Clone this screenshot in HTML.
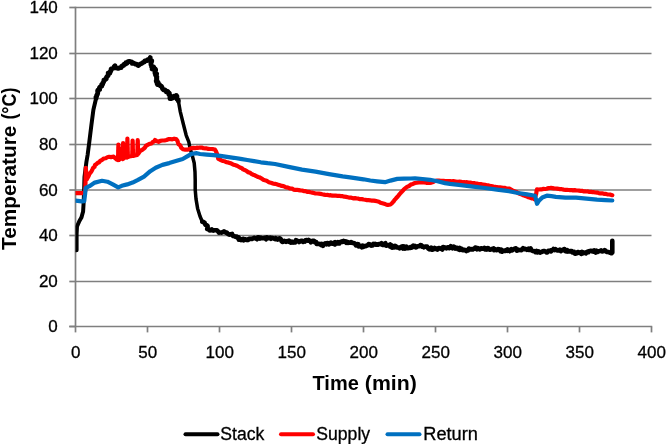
<!DOCTYPE html>
<html><head><meta charset="utf-8"><style>
html,body{margin:0;padding:0;background:#fff;}
svg{display:block;}
text{font-family:"Liberation Sans",Arial,sans-serif;fill:#000;}
.tk{font-size:17px;stroke:#000;stroke-width:0.3px;}
.ttl{font-size:20.4px;font-weight:bold;}
.lg{font-size:17.6px;stroke:#000;stroke-width:0.3px;}
</style></head><body>
<svg width="666" height="444" viewBox="0 0 666 444">
<rect width="666" height="444" fill="#fff"/>
<g stroke="#7f7f7f" stroke-width="1.7" fill="none">
<line x1="75.5" y1="281.5" x2="651.5" y2="281.5"/>
<line x1="75.5" y1="235.5" x2="651.5" y2="235.5"/>
<line x1="75.5" y1="190" x2="651.5" y2="190"/>
<line x1="75.5" y1="144.5" x2="651.5" y2="144.5"/>
<line x1="75.5" y1="98.5" x2="651.5" y2="98.5"/>
<line x1="75.5" y1="53.5" x2="651.5" y2="53.5"/>
<line x1="75.5" y1="7.5" x2="651.5" y2="7.5"/>
<line x1="69.3" y1="326.5" x2="75.5" y2="326.5"/>
<line x1="69.3" y1="281.5" x2="75.5" y2="281.5"/>
<line x1="69.3" y1="235.5" x2="75.5" y2="235.5"/>
<line x1="69.3" y1="190" x2="75.5" y2="190"/>
<line x1="69.3" y1="144.5" x2="75.5" y2="144.5"/>
<line x1="69.3" y1="98.5" x2="75.5" y2="98.5"/>
<line x1="69.3" y1="53.5" x2="75.5" y2="53.5"/>
<line x1="69.3" y1="7.5" x2="75.5" y2="7.5"/>
<line x1="75.5" y1="326.5" x2="75.5" y2="332.4"/>
<line x1="147.5" y1="326.5" x2="147.5" y2="332.4"/>
<line x1="219.5" y1="326.5" x2="219.5" y2="332.4"/>
<line x1="291.5" y1="326.5" x2="291.5" y2="332.4"/>
<line x1="363.5" y1="326.5" x2="363.5" y2="332.4"/>
<line x1="435.5" y1="326.5" x2="435.5" y2="332.4"/>
<line x1="507.5" y1="326.5" x2="507.5" y2="332.4"/>
<line x1="579.5" y1="326.5" x2="579.5" y2="332.4"/>
<line x1="651.5" y1="326.5" x2="651.5" y2="332.4"/>
<line x1="75.5" y1="6.8" x2="75.5" y2="326.5"/>
<line x1="69.3" y1="326.5" x2="652.2" y2="326.5"/>
</g>
<g class="tk">
<text x="57.8" y="332.30" text-anchor="end">0</text>
<text x="57.8" y="287.30" text-anchor="end">20</text>
<text x="57.8" y="241.30" text-anchor="end">40</text>
<text x="57.8" y="195.80" text-anchor="end">60</text>
<text x="57.8" y="150.30" text-anchor="end">80</text>
<text x="57.8" y="104.30" text-anchor="end">100</text>
<text x="57.8" y="59.30" text-anchor="end">120</text>
<text x="57.8" y="13.30" text-anchor="end">140</text>
<text x="75.80" y="357.6" text-anchor="middle">0</text>
<text x="147.80" y="357.6" text-anchor="middle">50</text>
<text x="219.80" y="357.6" text-anchor="middle">100</text>
<text x="291.80" y="357.6" text-anchor="middle">150</text>
<text x="363.80" y="357.6" text-anchor="middle">200</text>
<text x="435.80" y="357.6" text-anchor="middle">250</text>
<text x="507.80" y="357.6" text-anchor="middle">300</text>
<text x="579.80" y="357.6" text-anchor="middle">350</text>
<text x="651.80" y="357.6" text-anchor="middle">400</text>
</g>
<text class="ttl" transform="translate(16.4,249.9) rotate(-90)" textLength="124.2" lengthAdjust="spacingAndGlyphs">Temperature</text>
<text class="ttl" transform="translate(16.4,119.6) rotate(-90)" textLength="32" lengthAdjust="spacingAndGlyphs">(°C)</text>
<text class="ttl" x="312.5" y="390" textLength="46.3" lengthAdjust="spacingAndGlyphs">Time</text>
<text class="ttl" x="364.8" y="390" textLength="52.0" lengthAdjust="spacingAndGlyphs">(min)</text>
<clipPath id="pa"><rect x="75.5" y="0" width="580" height="330"/></clipPath>
<g fill="none" stroke-width="4.2" stroke-linejoin="round" stroke-linecap="round" clip-path="url(#pa)">
<polyline stroke="#000" stroke-width="4.0" points="76.6,250.3 76.6,234.0 77.0,226.5 79.4,221.0 81.4,217.6 83.1,211.5 83.5,204.8 84.0,193.8 84.5,176.9 86.4,162.0 87.6,155.0 89.3,142.0 91.4,125.0 93.4,109.7 96.1,98.2"/>
<polyline stroke="#000" stroke-width="4.8" points="96.1,98.2 95.9,97.1 96.7,96.3 96.7,95.2 97.4,94.3 97.7,93.3 97.8,92.3 97.6,91.0 97.9,90.0 99.7,89.7 99.3,88.2 99.7,87.3 100.6,86.5 101.9,86.1 101.6,84.7 102.7,84.2 102.7,83.0 103.5,82.3 103.8,81.3 103.9,80.0 105.3,79.5 106.3,78.8 106.4,77.5 107.0,76.5 108.0,75.8 108.5,74.8 108.2,73.2 109.9,73.0 110.1,71.8 110.8,71.1 111.0,69.9 111.2,68.8 112.5,68.5 113.8,68.0 114.1,66.7 115.0,65.8 115.6,66.9 116.2,67.9 117.5,68.3 118.9,68.3 120.0,67.6 121.3,67.6 121.6,66.2 122.5,65.8 123.7,65.5 124.1,64.2 125.5,64.1 125.8,62.8 127.1,63.2 128.1,61.6 129.3,61.4 130.6,61.8 131.8,61.8 132.2,63.4 133.6,63.0 134.5,63.5 135.4,64.2 136.7,64.2 137.5,65.0 138.5,65.5 139.4,64.7 140.4,63.9 141.5,63.5 142.4,62.9 143.2,62.3 144.4,62.0 144.8,60.8 146.0,60.7 147.2,60.6 148.0,59.5 149.6,59.0 150.3,57.6 149.7,58.9 150.6,59.9 151.8,60.7 151.5,62.0 151.0,63.1 150.9,64.1 151.1,65.1 151.8,66.0 151.6,67.0 152.6,67.9 152.2,69.0 153.4,68.2 153.6,66.8 154.0,67.9 154.9,68.7 155.7,69.6 155.5,71.0 155.0,72.1 154.9,73.1 156.6,73.9 155.5,75.1 156.3,76.0 156.9,76.9 156.4,78.0 156.9,79.0 156.3,80.2 156.2,81.3 157.9,82.1 157.0,83.4 157.4,84.4 158.5,83.7 159.5,84.6 160.1,85.8 161.5,86.3 162.1,87.5 162.6,88.9 163.5,89.8 165.0,90.0 165.8,90.6 166.2,91.9 167.7,91.4 168.4,92.3 169.4,93.2 168.8,94.4 170.0,95.2 170.0,96.4 169.9,97.5 170.0,98.6 171.3,98.5 172.5,98.0 173.1,96.9 173.9,96.1 175.7,96.7 176.3,95.5 177.0,96.5 176.4,98.0 176.9,99.1 178.2,99.8 178.4,101.0"/>
<polyline stroke="#000" stroke-width="3.5" points="178.4,101.0 180.2,111.3 183.2,123.5 186.2,135.3 188.8,141.8 190.1,148.5 192.2,155.3 194.2,163.0 195.0,172.0 195.2,180.0 195.2,189.5 196.0,198.9 197.6,208.4 200.0,216.3 202.3,221.8"/>
<polyline stroke="#000" stroke-width="4.6" points="202.3,221.8 203.5,222.1 204.6,222.7 204.9,223.9 205.5,224.9 206.8,225.3 207.6,226.0 207.6,227.3 207.2,228.9 208.6,229.2 209.4,230.2 210.3,230.4 211.7,229.4 212.4,230.4 213.4,230.6 214.4,230.3 215.4,230.2 216.4,230.2 217.3,230.6 218.1,231.5 218.9,232.6 219.9,232.5 220.8,232.5 221.8,232.6 222.8,232.0 223.9,231.4 224.9,231.8 225.8,232.8 226.8,232.6 227.6,233.5 228.4,234.2 229.4,234.6 230.7,234.2 232.1,233.9 232.5,235.5 233.3,236.1 234.5,236.3 235.4,236.8 236.7,236.6 237.3,237.7 238.7,237.3 238.8,239.6 240.2,239.1 241.1,240.0 242.1,239.3 243.1,238.8 243.9,240.3 244.9,239.4 245.9,239.4 247.1,240.1 248.1,239.9 249.0,238.9 250.0,238.9 251.0,238.6 252.0,239.0 253.0,238.5 254.0,237.8 255.0,238.1 256.0,238.5 257.0,239.2 257.9,237.3 258.9,237.3 260.0,238.6 261.0,237.7 262.0,238.2 263.0,238.3 264.0,238.1 265.0,237.8 266.0,239.3 267.0,237.4 268.0,238.1 269.0,238.0 270.1,237.6 271.0,238.7 272.0,237.9 273.0,238.2 274.0,238.6 274.9,239.2 275.8,238.1 276.7,238.7 277.6,239.5 278.5,238.5 279.9,238.4 280.7,239.0 281.2,240.0 281.5,241.1 282.3,241.9 283.3,241.7 284.3,240.9 285.2,241.3 286.0,241.8 287.0,241.0 288.0,241.6 289.0,240.6 290.0,242.1 291.0,242.6 292.0,241.6 293.1,242.6 294.0,242.0 295.1,242.4 295.9,240.1 297.0,240.7 298.0,241.1 299.1,242.1 300.0,241.6 301.0,240.7 302.0,240.8 302.9,241.9 303.9,241.1 304.8,241.6 305.7,240.3 306.6,240.1 307.5,240.7 308.5,239.9 309.4,240.8 310.4,240.8 310.9,242.4 312.2,241.2 313.3,240.7 314.2,241.0 314.8,242.3 316.2,242.1 316.6,243.9 318.0,243.8 319.2,243.9 320.2,244.1 321.1,245.0 321.9,243.9 323.1,245.9 323.8,244.4 324.6,243.8 325.4,243.3 326.5,244.2 327.3,243.1 328.2,243.3 329.2,244.4 330.0,243.1 330.9,242.7 331.9,243.7 332.8,243.7 333.6,242.9 334.9,244.4 335.3,242.2 336.4,242.9 337.5,243.3 338.1,242.2 339.4,243.4 340.0,242.0 340.9,241.9 341.8,241.4 342.7,241.8 343.6,240.9 344.6,241.8 345.5,241.4 346.4,242.9 347.3,242.0 348.0,243.0 349.1,242.5 350.0,242.8 351.2,242.0 352.0,242.7 352.9,243.0 353.8,243.1 354.7,243.4 355.4,244.3 356.0,245.4 357.5,244.1 358.4,244.2 358.7,246.5 359.9,245.9 360.8,246.1 361.8,247.2 362.6,245.6 363.6,246.7 364.4,246.0 365.4,246.2 366.3,246.0 367.1,245.3 368.0,245.2 368.7,244.1 369.7,244.2 370.9,245.6 371.8,245.5 372.7,245.4 373.3,243.8 374.4,244.4 375.2,243.9 376.1,244.6 377.0,244.2 377.9,244.7 378.8,244.0 379.7,244.3 380.6,244.3 381.5,243.3 382.4,244.9 383.3,245.0 384.2,243.9 385.4,243.2 385.7,245.5 386.6,245.7 387.7,245.3 388.7,245.2 390.0,244.5 390.2,246.8 391.7,245.4 391.9,247.6 393.2,246.9 394.1,247.4 395.1,245.9 396.0,246.3 396.8,247.4 397.8,247.3 398.6,247.8 399.5,248.3 400.5,247.3 401.5,246.7 402.4,246.3 403.1,248.6 404.2,246.5 404.9,248.6 405.9,247.8 406.6,246.7 407.8,248.2 408.7,248.0 409.7,248.0 410.4,247.1 411.5,247.7 412.2,246.6 413.1,245.8 414.0,246.9 414.9,246.0 415.9,247.3 416.7,247.0 417.6,246.2 418.5,246.3 419.4,246.2 420.4,245.1 421.3,245.2 422.1,246.6 423.0,246.3 423.9,247.3 424.8,246.7 425.7,246.5 427.1,246.5 427.7,247.6 428.4,248.6 429.3,249.3 430.2,248.8 431.2,247.6 431.9,249.7 432.8,249.7 433.8,249.0 434.6,248.0 435.6,249.0 436.5,248.6 437.4,249.5 438.3,248.3 439.2,248.1 440.1,248.6 441.0,248.6 442.2,249.5 442.6,247.2 443.5,247.0 444.7,248.0 445.5,247.5 446.4,248.4 447.3,247.4 448.2,247.2 449.1,248.2 450.0,247.9 450.9,246.2 451.8,247.2 452.6,248.2 453.7,246.7 454.6,247.1 455.4,248.5 456.4,247.7 457.3,248.0 457.9,249.0 459.4,248.0 459.7,249.9 461.2,248.7 462.1,249.1 462.7,250.2 463.6,250.1 464.5,249.7 465.4,250.2 466.3,251.0 467.2,250.0 468.2,250.3 468.8,248.5 469.8,249.0 470.8,249.4 471.7,249.1 472.7,249.5 473.5,248.7 474.4,248.6 475.2,247.5 476.2,247.9 477.1,249.3 478.0,248.1 478.9,249.0 479.9,249.5 480.7,248.6 481.6,248.2 482.5,248.7 483.4,248.6 484.3,247.9 485.1,249.4 486.1,248.4 486.9,249.5 487.9,248.1 488.8,248.6 489.6,249.6 490.5,249.6 491.5,249.3 492.4,249.0 493.4,248.4 494.1,250.1 495.1,249.2 496.0,249.7 496.8,250.2 497.9,249.1 498.9,249.2 499.7,249.5 500.4,251.2 501.5,249.8 502.1,251.7 503.2,250.9 504.1,250.5 505.0,250.9 505.9,250.2 506.9,250.8 507.7,249.4 508.6,250.1 509.7,251.2 510.5,250.1 511.3,249.2 512.3,250.3 513.2,249.4 514.1,249.3 514.9,248.5 515.8,248.4 516.9,250.6 517.7,249.4 518.7,250.1 519.5,250.0 520.4,250.0 521.4,250.2 522.2,249.1 523.0,248.2 524.0,249.2 524.9,248.9 525.8,249.0 526.8,249.8 527.6,249.3 528.5,248.6 529.0,250.0 530.7,248.5 531.1,250.1 531.9,250.5 532.8,251.0 533.8,251.1 534.8,251.2 535.6,252.1 536.6,250.9 537.4,252.4 538.4,251.3 539.3,251.8 540.1,252.6 541.1,252.2 542.0,251.8 542.8,251.2 543.7,251.0 544.7,251.1 545.6,251.7 546.6,252.5 547.5,252.2 548.3,250.9 549.2,251.0 550.1,250.6 551.1,251.4 551.8,250.0 552.8,250.1 553.5,249.0 554.6,250.0 555.6,249.2 556.7,250.1 557.7,250.5 558.7,250.3 559.7,249.7 560.8,251.1 561.8,250.0 562.7,250.3 563.7,249.3 564.6,249.1 565.4,251.3 566.3,251.4 567.3,250.3 567.9,251.6 569.2,251.4 570.4,251.1 571.6,251.1 572.2,252.4 573.1,251.9 574.1,251.9 574.8,253.6 575.7,253.6 576.6,253.4 577.7,252.0 578.6,252.3 579.4,253.0 580.2,252.4 581.3,253.9 582.0,251.9 583.1,253.3 583.9,252.9 584.8,252.5 585.8,253.4 586.6,252.2 587.5,251.6 588.4,252.1 589.2,251.2 590.1,250.9 591.0,250.7 592.0,251.3 592.8,250.8 593.8,251.6 594.5,250.4 595.8,252.5 596.4,250.7 597.6,251.9 598.4,251.3 599.3,251.2 600.2,250.9 601.0,250.4 602.0,251.4 602.9,251.2 603.7,250.7 604.6,250.1 605.4,250.7 606.2,251.5 607.0,252.0 608.2,252.0 609.3,252.4 610.4,252.9 611.5,253.3 612.3,252.6 612.3,251.7 612.3,250.8 612.3,249.9 612.3,249.0 612.3,248.1 612.3,247.2 612.3,246.2 612.3,245.3 612.3,244.4 612.3,243.5 612.3,242.6 612.3,241.7 612.3,240.8"/>
<polyline stroke="#ff0000" points="75.5,193.2 77.1,193.2 78.7,193.2 80.2,193.2 81.8,193.2 83.4,193.2 85.2,191.0 85.3,189.4 85.3,187.9 85.4,186.3 85.4,184.7 85.5,183.1 85.5,181.6 85.6,180.0 85.6,178.5 85.6,176.9 85.7,175.4 85.7,173.9 85.7,172.4 85.8,170.9 85.8,169.3 85.8,167.8 85.9,169.5 86.1,171.1 86.2,172.8 86.3,174.5 86.4,176.2 86.6,177.8 86.7,179.5 87.4,178.1 88.2,176.7 88.9,175.3 89.4,173.8 90.6,172.5 91.6,171.1 92.3,169.6 93.0,168.0 94.5,166.9 95.0,165.0 96.6,163.9 97.8,162.8 99.3,162.2 100.2,160.8 102.1,159.8 103.8,158.5 105.7,158.2 107.4,157.2 109.2,156.8 111.0,157.1 113.7,156.7 115.2,158.1 116.6,159.5 118.0,160.0 118.0,158.4 118.1,156.9 118.1,155.3 118.2,153.8 118.2,152.2 118.2,150.7 118.3,149.2 118.3,147.6 118.4,146.1 118.4,144.5 118.5,146.1 118.5,147.6 118.6,149.2 118.6,150.7 118.7,152.2 118.7,153.8 118.8,155.3 118.8,156.9 118.9,158.4 118.9,160.0 120.3,158.0 120.4,156.5 120.5,155.0 120.5,153.5 120.6,152.0 120.7,150.5 120.8,149.0 120.9,150.5 121.0,152.0 121.0,153.5 121.1,155.0 121.2,156.5 121.3,158.0 122.7,159.0 122.7,157.4 122.8,155.8 122.8,154.2 122.9,152.6 122.9,151.0 122.9,149.4 123.0,147.8 123.0,146.2 123.1,144.6 123.1,143.0 123.1,144.6 123.2,146.1 123.2,147.7 123.3,149.2 123.3,150.8 123.4,152.3 123.4,153.8 123.5,155.4 123.5,156.9 123.6,158.5 125.0,157.0 125.1,155.5 125.1,154.0 125.2,152.5 125.3,151.0 125.3,149.5 125.4,148.0 125.5,149.5 125.5,151.0 125.6,152.5 125.7,154.0 125.7,155.5 125.8,157.0 127.0,157.5 127.0,155.9 127.1,154.3 127.1,152.8 127.1,151.2 127.2,149.6 127.2,148.0 127.2,146.4 127.3,144.8 127.3,143.2 127.3,141.7 127.4,140.1 127.4,138.5 127.4,140.0 127.5,141.6 127.5,143.1 127.6,144.7 127.6,146.2 127.7,147.8 127.7,149.3 127.7,150.8 127.8,152.4 127.8,153.9 127.9,155.5 127.9,157.0 129.3,156.5 132.2,156.0 132.2,154.4 132.3,152.9 132.3,151.3 132.4,149.8 132.4,148.2 132.4,146.7 132.5,145.2 132.5,143.6 132.6,142.1 132.6,140.5 132.7,142.1 132.7,143.6 132.8,145.2 132.8,146.7 132.8,148.2 132.9,149.8 132.9,151.3 133.0,152.9 133.0,154.4 133.1,156.0 134.8,155.5 137.3,155.0 137.3,153.4 137.4,151.7 137.4,150.1 137.5,148.4 137.5,146.8 137.6,145.1 137.6,143.5 137.7,141.8 137.7,140.2 137.8,141.7 137.8,143.3 137.9,144.8 137.9,146.3 138.0,147.9 138.0,149.4 138.1,150.9 138.1,152.5 138.2,154.0 139.7,151.6 140.8,150.5 142.3,149.8 143.5,148.9 144.9,147.6 145.9,145.9 147.6,144.9 149.5,143.9 151.5,143.5 152.5,142.2 154.1,141.5 155.0,140.0 156.6,141.1 158.5,141.8 160.3,140.8 162.4,140.5 164.5,140.5 166.5,140.0 168.4,139.2 170.5,139.2 172.3,139.3 174.2,138.7 176.0,139.0 177.4,140.6 178.0,142.7 178.5,144.2 179.9,145.1 180.7,146.4 181.3,147.9 183.1,149.2 185.3,149.7 187.5,149.7 189.5,148.9 191.4,148.1 193.5,147.8 195.1,148.2 196.8,147.7 198.4,147.8 200.0,147.5 201.7,147.6 203.4,148.2 205.1,148.3 206.8,148.4 208.4,148.9 210.0,149.0 211.7,149.0 213.3,149.2 214.9,149.5 216.0,151.4 216.9,153.5 217.5,155.3 218.0,157.0 218.2,158.9 219.8,159.5 221.4,160.3 223.0,161.0 224.7,161.3 226.3,162.1 228.0,162.4 229.7,163.0 231.4,163.6 232.9,164.4 234.6,164.9 236.2,165.5 237.8,166.2 239.2,167.0 240.5,167.8 242.0,168.3 243.1,169.4 244.6,170.0 246.1,170.6 247.3,171.6 248.6,172.4 250.2,172.8 251.4,173.8 253.0,174.7 254.8,175.3 256.4,176.2 258.1,177.0 259.6,177.4 260.9,178.1 262.2,178.8 263.4,179.8 264.9,180.3 266.6,180.8 268.2,181.8 269.8,182.5 271.6,183.0 273.2,183.7 275.0,183.8 276.7,184.3 278.3,184.9 280.0,185.3 281.7,185.9 283.5,186.1 285.1,186.9 286.8,187.4 288.5,187.8 290.1,188.5 292.0,188.6 293.5,189.6 295.3,189.9 297.0,189.8 298.7,190.1 300.3,190.4 302.0,190.5 303.7,191.1 305.4,191.1 307.1,191.8 308.8,191.9 310.5,192.3 312.2,192.6 313.8,193.0 315.5,193.5 317.2,193.5 318.9,193.7 320.6,193.9 322.3,194.3 324.0,194.6 325.6,195.0 327.3,194.9 329.0,195.3 330.7,195.2 332.4,195.7 334.1,195.6 335.8,195.7 337.5,195.8 339.2,195.8 340.9,196.1 342.6,196.2 344.3,196.7 346.1,196.9 347.8,197.3 349.5,197.7 351.3,197.7 353.1,198.3 355.0,198.1 356.8,198.5 358.5,198.7 360.1,199.2 361.9,199.1 363.5,199.5 365.2,199.8 366.9,200.1 368.6,200.2 370.3,200.3 372.0,200.7 373.7,200.6 375.3,200.9 377.0,201.2 378.9,201.7 380.5,202.7 382.4,203.2 384.2,203.7 386.0,204.4 387.8,205.0 390.5,204.5 391.7,203.5 392.7,202.3 393.8,201.2 394.6,199.9 395.6,198.8 396.6,197.6 397.7,196.6 398.6,195.4 399.6,194.2 400.6,193.0 401.6,191.9 402.7,190.8 403.9,189.4 405.4,188.2 406.8,187.0 408.3,186.4 409.6,185.6 410.8,184.6 412.9,183.9 414.9,183.0 416.8,182.7 418.8,182.4 420.7,182.4 422.5,182.5 424.4,182.4 426.3,182.8 428.0,182.6 429.8,182.8 431.5,182.6 433.3,182.0 435.0,181.0 437.0,180.7 439.0,180.6 440.6,180.8 442.1,180.9 443.7,180.9 445.3,181.0 446.9,181.1 448.4,181.0 450.0,181.1 451.6,181.3 453.2,181.2 454.7,181.4 456.3,181.7 457.9,181.8 459.4,181.7 461.0,181.9 462.5,182.3 464.0,182.2 465.5,182.4 467.0,182.2 468.5,182.6 470.0,182.6 471.5,182.9 473.0,183.0 474.5,183.2 476.0,183.6 477.5,183.7 479.0,184.0 480.5,184.0 482.0,184.4 483.5,184.7 485.0,184.8 486.7,185.3 488.5,185.4 490.2,186.0 492.0,186.2 493.6,186.6 495.2,186.8 496.8,187.2 498.4,187.4 500.0,187.4 501.5,187.6 503.0,187.8 504.5,187.8 506.0,188.3 507.5,188.5 509.0,188.5 510.5,189.2 512.0,190.1 513.5,190.8 514.9,191.6 516.6,192.1 518.0,193.0 519.4,193.7 521.0,194.2 522.5,194.9 524.0,195.4 525.5,196.1 527.0,196.6 528.5,197.3 530.1,197.7 531.6,198.3 533.2,198.5 534.7,199.3 535.0,197.6 535.5,196.0 536.0,194.4 536.4,192.7 536.5,191.0 537.0,189.4 538.8,189.5 540.5,189.4 542.0,189.3 543.5,188.9 545.0,189.0 546.5,188.7 548.0,188.2 549.5,188.0 551.0,187.9 552.5,188.1 554.0,188.4 555.5,188.5 557.0,188.6 558.5,188.8 560.0,189.2 561.9,189.2 563.7,189.6 565.5,189.8 567.0,189.8 568.5,190.0 570.0,190.1 571.5,190.0 573.0,190.4 574.5,190.1 576.0,190.4 577.5,190.5 579.0,190.6 580.5,190.8 582.0,190.8 583.5,191.4 585.0,191.3 586.5,191.5 588.0,191.4 589.5,191.9 591.0,191.8 592.5,192.2 594.0,192.2 595.5,192.5 597.0,192.6 598.7,193.1 600.4,193.3 602.1,193.3 603.8,193.8 605.5,193.9 607.2,194.3 608.9,194.5 610.6,194.7 612.3,195.2"/>
<polyline stroke="#0070c0" points="75.5,200.6 81.9,201.4 84.2,201.2 85.1,194.0 85.7,188.0 89.4,186.2 94.8,182.6 102.0,180.8 107.4,181.7 112.8,184.4 118.2,187.4 121.8,185.8 127.2,184.4 132.6,182.6 138.0,179.9 144.0,176.6 150.3,171.2 155.7,167.8 162.4,164.9 169.2,163.1 175.9,161.1 182.7,159.0 186.8,156.6 191.5,153.9 196.9,153.2 200.0,154.0 206.8,154.6 213.5,155.1 220.3,155.9 227.0,156.9 233.8,157.8 240.5,158.9 247.3,160.0 254.0,161.1 260.8,162.3 267.6,163.2 275.0,164.0 288.5,166.9 302.0,169.6 315.5,171.6 329.0,174.1 342.6,176.4 350.0,177.3 356.8,178.3 363.5,179.3 370.3,180.5 377.0,181.3 385.0,182.2 390.5,180.6 397.3,178.9 404.0,178.6 410.8,178.5 415.0,178.3 422.5,179.0 430.0,179.8 437.5,181.3 445.0,183.1 450.0,183.9 461.0,185.2 473.0,186.6 485.0,188.0 497.0,189.6 509.0,191.2 518.0,193.0 527.0,194.4 535.1,195.7 537.0,203.8 538.7,201.1 542.3,197.5 546.8,195.7 551.4,196.2 555.9,196.8 565.5,197.6 576.0,197.6 586.5,198.6 597.0,199.7 605.5,200.2 612.3,200.5"/>
</g>
<g stroke-width="4" stroke-linecap="round">
<line x1="185.5" y1="434.2" x2="217.5" y2="434.2" stroke="#000"/>
<line x1="281" y1="434.2" x2="313" y2="434.2" stroke="#ff0000"/>
<line x1="387.5" y1="434.2" x2="419.5" y2="434.2" stroke="#0070c0"/>
</g>
<g class="lg">
<text x="220.3" y="440">Stack</text>
<text x="316.3" y="440">Supply</text>
<text x="423.3" y="440" textLength="54.6" lengthAdjust="spacingAndGlyphs">Return</text>
</g>
</svg>
</body></html>
